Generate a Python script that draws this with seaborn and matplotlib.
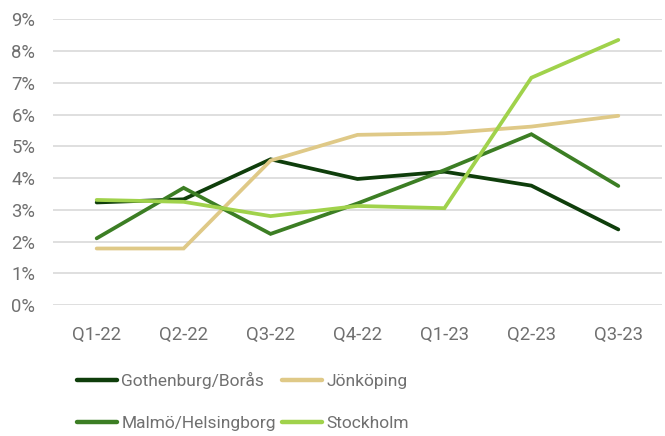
import matplotlib
matplotlib.use("Agg")
import matplotlib.pyplot as plt
import seaborn as sns
import pandas as pd
from matplotlib.lines import Line2D

quarters = ["Q1-22", "Q2-22", "Q3-22", "Q4-22", "Q1-23", "Q2-23", "Q3-23"]
gothenburg = [3.23, 3.33, 4.59, 3.97, 4.20, 3.76, 2.38]
jonkoping = [1.78, 1.78, 4.55, 5.36, 5.41, 5.62, 5.96]
malmo = [2.10, 3.69, 2.24, 3.20, 4.25, 5.38, 3.75]
stockholm = [3.31, 3.25, 2.80, 3.12, 3.05, 7.16, 8.35]
series_names = ["Gothenburg/Borås", "Jönköping", "Malmö/Helsingborg", "Stockholm"]
colors = ["#0f3e0b", "#dfc987", "#3c7e24", "#a0d24b"]
y_ticks = list(range(0, 10))

rows = []
for name, vals in zip(series_names, [gothenburg, jonkoping, malmo, stockholm]):
    for i, (q, v) in enumerate(zip(quarters, vals)):
        rows.append({"quarter": q, "idx": i, "value": v, "series": name})
df = pd.DataFrame(rows)

sns.set_theme(style="white")
plt.rcParams["font.family"] = ["Roboto", "DejaVu Sans"]
text_color = "#707070"

fig = plt.figure(figsize=(6.65, 4.36), dpi=100)
ax = fig.add_axes([53.2 / 665, 1 - 305 / 436, (661.8 - 53.2) / 665, (305 - 19.3) / 436])

sns.lineplot(data=df, x="idx", y="value", hue="series", palette=colors,
             hue_order=series_names, linewidth=2.7, ax=ax, legend=False,
             solid_capstyle="round", solid_joinstyle="miter")

ax.set_xlim(-0.5, len(quarters) - 0.5)
ax.set_ylim(0, 9)
ax.set_xticks(range(len(quarters)))
ax.set_xticklabels(quarters)
ax.set_yticks(y_ticks)
ax.set_yticklabels([f"{t}%" for t in y_ticks])
ax.tick_params(axis="both", length=0, labelsize=13.3, colors=text_color)
ax.tick_params(axis="x", pad=15)
ax.tick_params(axis="y", pad=13)
ax.grid(axis="y", color="#d9d9d9", linewidth=1.2)
ax.set_axisbelow(True)
for s in ax.spines.values():
    s.set_visible(False)
ax.set_xlabel("")
ax.set_ylabel("")

order = [0, 2, 1, 3]
handles = [Line2D([0], [0], color=colors[i], linewidth=3.2, solid_capstyle="round") for i in order]
labels = [series_names[i] for i in order]
leg = fig.legend(handles, labels, ncol=2, loc="upper left",
                 bbox_to_anchor=(77 / 665, 1 - 372 / 436), frameon=False,
                 fontsize=12.5, handlelength=2.3, handletextpad=0.25,
                 columnspacing=0.35, labelspacing=1.55, borderpad=0, borderaxespad=0)
for t in leg.get_texts():
    t.set_color(text_color)

fig.savefig("out.png", dpi=100)
